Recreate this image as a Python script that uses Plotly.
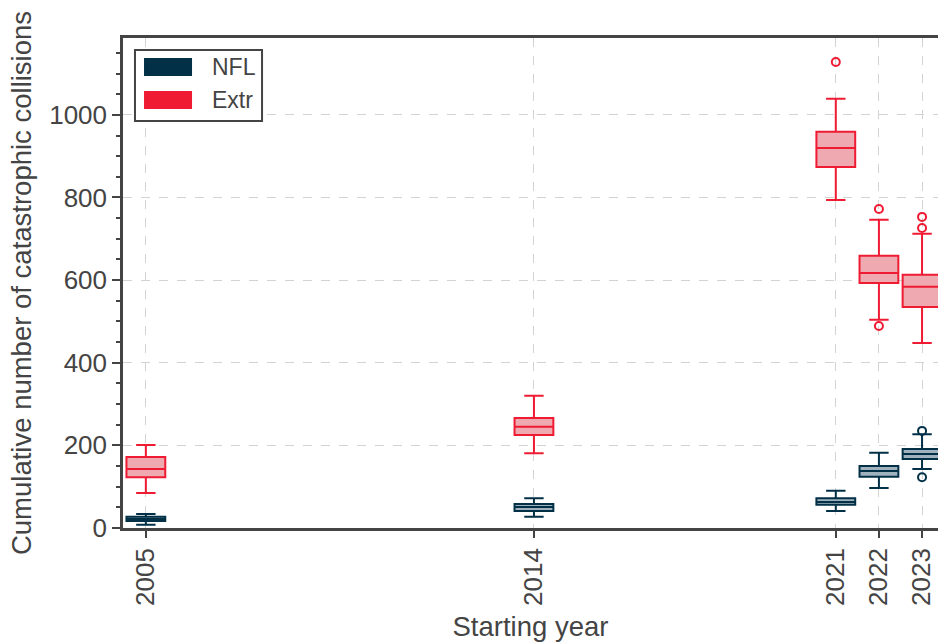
import plotly.graph_objects as go

years = [2005, 2014, 2021, 2022, 2023]

nfl_lo = [8, 27, 41, 97, 143]
nfl_q1 = [17, 41, 56, 124, 167]
nfl_med = [22, 51, 63, 138, 179]
nfl_q3 = [27, 58, 72, 150, 191]
nfl_hi = [34, 72, 90, 182, 227]
nfl_out_x = [2023, 2023]
nfl_out_y = [235, 123]

extr_lo = [85, 181, 794, 504, 448]
extr_q1 = [123, 225, 874, 593, 535]
extr_med = [143, 245, 920, 617, 584]
extr_q3 = [172, 266, 959, 659, 613]
extr_hi = [201, 320, 1039, 746, 712]
extr_out_x = [2021, 2022, 2022, 2023, 2023]
extr_out_y = [1128, 772, 489, 753, 726]

tick_labels = ["2005", "2014", "2021", "2022", "2023"]
series_names = ["NFL", "Extr"]

NFL_C = "#023047"
NFL_F = "#9fb2bd"
EXTR_C = "#EE1B33"
EXTR_F = "#EFA9B1"
AX = "#444444"
FONT = "Liberation Sans, Arial, sans-serif"

fig = go.Figure()

for name, lo, q1, med, q3, hi, ox, oy, c, f in [
    (series_names[0], nfl_lo, nfl_q1, nfl_med, nfl_q3, nfl_hi, nfl_out_x, nfl_out_y, NFL_C, NFL_F),
    (series_names[1], extr_lo, extr_q1, extr_med, extr_q3, extr_hi, extr_out_x, extr_out_y, EXTR_C, EXTR_F),
]:
    fig.add_trace(go.Box(
        x=years, q1=q1, median=med, q3=q3, lowerfence=lo, upperfence=hi,
        width=0.9, whiskerwidth=0.5, fillcolor=f,
        line=dict(color=c, width=2), showlegend=False, name=name,
        boxpoints=False,
    ))
    fig.add_trace(go.Scatter(
        x=ox, y=oy, mode="markers", showlegend=False, name=name,
        marker=dict(symbol="circle-open", size=8, color=c, line=dict(width=2, color=c)),
    ))

# Manual legend (patch-style swatches)
fig.add_shape(type="rect", xref="paper", yref="paper",
              x0=0.0147, x1=0.1706, y0=0.8306, y1=0.9755,
              line=dict(color=AX, width=2), fillcolor="white", layer="above")
for (name, c, y0, y1, yt) in [
    (series_names[0], NFL_C, 0.9224, 0.9592, 0.9408),
    (series_names[1], EXTR_C, 0.8551, 0.8918, 0.8735),
]:
    fig.add_shape(type="rect", xref="paper", yref="paper",
                  x0=0.0258, x1=0.0847, y0=y0, y1=y1,
                  line=dict(width=0), fillcolor=c, layer="above")
    fig.add_annotation(xref="paper", yref="paper", x=0.1067, y=yt,
                       text=name, showarrow=False, xanchor="left", yanchor="middle",
                       font=dict(size=23, color=AX, family=FONT))

fig.update_layout(
    width=938, height=644,
    margin=dict(l=123, r=0, t=38, b=116, autoexpand=False),
    plot_bgcolor="white", paper_bgcolor="white",
    font=dict(family=FONT, size=26, color=AX),
    boxmode="overlay",
    showlegend=False,
    xaxis=dict(
        range=[2004.47, 2023.37],
        tickmode="array", tickvals=years, ticktext=tick_labels,
        tickangle=-90, ticks="outside", ticklen=7, tickwidth=2, tickcolor=AX,
        showline=True, linecolor=AX, linewidth=2.5, mirror=True,
        showgrid=True, gridcolor="#d3d3d3", griddash="dash", gridwidth=1,
        zeroline=False,
        title=dict(text="Starting year", font=dict(size=27.5), standoff=12),
        tickfont=dict(size=26),
    ),
    yaxis=dict(
        range=[0, 1186],
        tickmode="linear", tick0=0, dtick=200,
        ticks="outside", ticklen=8, tickwidth=2, tickcolor=AX,
        minor=dict(dtick=50, ticks="outside", ticklen=4, tickwidth=1.5, tickcolor=AX, showgrid=False),
        showline=True, linecolor=AX, linewidth=2.5,
        showgrid=True, gridcolor="#d3d3d3", griddash="dash", gridwidth=1,
        zeroline=False,
        title=dict(text="Cumulative number of catastrophic collisions", font=dict(size=27.5), standoff=10),
        tickfont=dict(size=26),
    ),
)

fig.write_html(
    "out.html",
    config={"displayModeBar": False},
    post_script="document.body.style.margin='0';document.body.style.overflow='hidden';",
)
